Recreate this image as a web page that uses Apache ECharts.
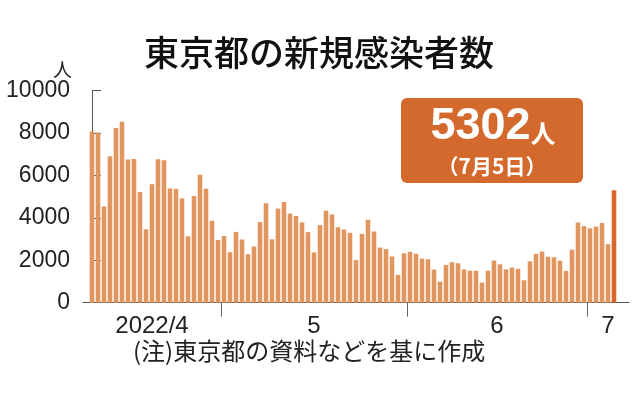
<!DOCTYPE html>
<html>
<head>
<meta charset="utf-8">
<script src="https://cdn.jsdelivr.net/npm/echarts@6/dist/echarts.min.js"></script>
<style>
html,body{margin:0;padding:0;background:#fff;}
#c{width:638px;height:395px;}
</style>
</head>
<body>
<div id="c"></div>
<script>
// ---- data ----
var startDate = '2022-04-09';
var cases = [
  // April 9 - 30
  8080, 8030, 4540, 6910, 8240, 8540, 6750, 6780, 5220, 3460, 5590,
  6770, 6720, 5390, 5370, 4920, 3130, 5030, 6040, 5380, 3870, 2960,
  // May 1 - 31
  3140, 2380, 3340, 2980, 2290, 2650, 3800, 4690, 2990, 4440, 4750,
  4200, 4090, 3790, 3330, 2370, 3660, 4340, 4160, 3560, 3450, 3300,
  2010, 3250, 3910, 3360, 2600, 2530, 2180, 1310, 2330,
  // June 1 - 30
  2400, 2310, 2080, 2050, 1560, 990, 1780, 1910, 1860, 1570, 1510,
  1510, 950, 1510, 1990, 1810, 1570, 1660, 1600, 1060, 1950, 2300,
  2410, 2170, 2140, 1980, 1500, 2500, 3780, 3610,
  // July 1 - 5
  3510, 3590, 3760, 2760, 5302
];
var monthNames = ['2022/4', '5', '6', '7'];
var yTicks = [0, 2000, 4000, 6000, 8000, 10000];
var titleText = '東京都の新規感染者数';
var unitText = '人';
var noteText = '(注)東京都の資料などを基に作成';
var calloutValue = '5302';
var calloutDate = '（7月5日）';

// ---- derived ----
var dates = [];
(function () {
  var d = new Date(startDate + 'T00:00:00Z');
  for (var i = 0; i < cases.length; i++) {
    dates.push(new Date(d.getTime() + i * 86400000));
  }
})();
var xMin = -1.5, xMax = cases.length + 1.5;
var boundaries = [];
for (var i = 1; i < dates.length; i++) {
  if (dates[i].getUTCDate() === 1) boundaries.push(i - 0.5);
}
var edges = [xMin].concat(boundaries).concat([xMax]);
var labelPos = [];
for (var k = 0; k < edges.length - 1; k++) labelPos.push((edges[k] + edges[k + 1]) / 2);

var barData = cases.map(function (v, i) {
  var item = { value: [i, v] };
  if (i === cases.length - 1) item.itemStyle = { color: '#D8672B' };
  return item;
});

var numFont = "'Liberation Sans', Arial, sans-serif";
var cjkFont = "'Noto Sans CJK JP', 'Noto Sans', sans-serif";

var chart = echarts.init(document.getElementById('c'), null, { renderer: 'canvas' });
chart.setOption({
  animation: false,
  title: {
    text: titleText,
    left: 'center',
    top: 30,
    textStyle: { fontFamily: cjkFont, fontSize: 35, fontWeight: 500, color: '#111' }
  },
  grid: { left: 83, right: 9, top: 90.7, bottom: 92.3, outerBoundsMode: 'none', containLabel: false },
  xAxis: {
    type: 'value',
    min: xMin,
    max: xMax,
    axisLine: { show: true, lineStyle: { color: '#555', width: 1 } },
    axisTick: { show: true, customValues: boundaries, length: 14, lineStyle: { color: '#666' } },
    axisLabel: {
      show: true,
      customValues: labelPos,
      margin: 12,
      fontFamily: numFont,
      fontSize: 24,
      color: '#222',
      formatter: function (v) {
        for (var j = 0; j < labelPos.length; j++) {
          if (Math.abs(labelPos[j] - v) < 1e-6) return monthNames[j];
        }
        return '';
      }
    },
    splitLine: { show: false }
  },
  yAxis: {
    type: 'value',
    min: yTicks[0],
    max: yTicks[yTicks.length - 1],
    interval: yTicks[1] - yTicks[0],
    axisLine: { show: true, lineStyle: { color: '#555', width: 1 } },
    axisTick: { show: true, inside: true, length: 9, lineStyle: { color: '#555' } },
    axisLabel: {
      margin: 13, fontFamily: numFont, fontSize: 23, color: '#222',
      formatter: function (v) { return String(v); }
    },
    splitLine: { show: false }
  },
  series: [{
    type: 'bar',
    data: barData,
    barWidth: 4.6,
    itemStyle: { color: '#E2965F' }
  }],
  graphic: [
    {
      type: 'text', left: 53, top: 60,
      style: { text: unitText, fontFamily: cjkFont, fontSize: 19, fill: '#222' }
    },
    {
      type: 'rect', shape: { x: 401, y: 98, width: 182, height: 85, r: 6 },
      style: { fill: '#D4692D' }
    },
    {
      type: 'text', x: 493, y: 149,
      style: {
        text: '{a|' + calloutValue + '}{b|' + unitText + '}',
        align: 'center', verticalAlign: 'bottom',
        rich: {
          a: { fontFamily: "'Liberation Sans', Arial, sans-serif", fontSize: 45, fontWeight: 'bold', fill: '#fff', verticalAlign: 'bottom' },
          b: { fontFamily: cjkFont, fontSize: 25, fontWeight: 'bold', fill: '#fff', verticalAlign: 'bottom', padding: [0, 0, 3, 0] }
        }
      }
    },
    {
      type: 'text', x: 492, y: 166,
      style: {
        text: calloutDate, align: 'center', verticalAlign: 'middle',
        fontFamily: cjkFont, fontSize: 21, fontWeight: 'bold', fill: '#fff'
      }
    },
    {
      type: 'text', left: 133, top: 339,
      style: { text: noteText, fontFamily: cjkFont, fontSize: 24, fill: '#222' }
    }
  ]
});
</script>
</body>
</html>
